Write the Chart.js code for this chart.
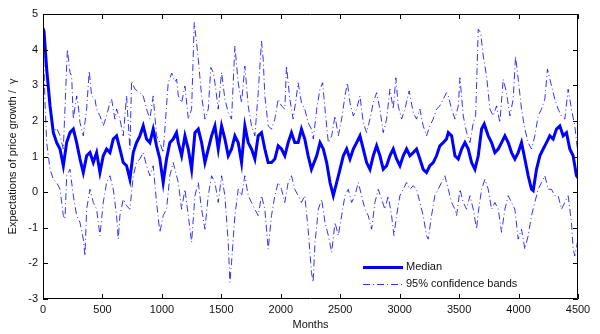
<!DOCTYPE html>
<html>
<head>
<meta charset="utf-8">
<script src="https://cdn.jsdelivr.net/npm/chart.js@4"></script>
<style>
  html, body { margin: 0; padding: 0; background: #fff; }
  #wrap { width: 600px; height: 334px; }
</style>
</head>
<body>
<div id="wrap"><canvas id="c" width="600" height="334"></canvas></div>
<script>
// Simulated expectations of price growth over 4500 months: median path and 95% bands.
const medianMonths = [0,9,31,59,87,115,143,171,199,227,255,283,311,339,367,395,423,451,479,507,535,563,591,619,647,675,703,731,759,787,815,843,871,899,927,955,983,1011,1039,1067,1095,1123,1138,1166,1194,1222,1250,1278,1306,1334,1362,1390,1418,1446,1474,1502,1530,1558,1586,1614,1642,1670,1698,1726,1754,1782,1810,1838,1866,1894,1922,1950,1978,2006,2034,2062,2090,2118,2146,2174,2202,2230,2258,2302,2330,2358,2386,2414,2442,2470,2498,2526,2554,2582,2610,2638,2666,2694,2722,2750,2778,2806,2834,2862,2890,2918,2946,2974,3002,3030,3058,3086,3114,3142,3170,3198,3226,3254,3282,3310,3338,3366,3394,3409,3437,3465,3493,3521,3549,3577,3605,3633,3661,3689,3711,3745,3773,3801,3829,3857,3885,3913,3941,3969,3997,4025,4053,4081,4109,4123,4151,4179,4207,4235,4263,4291,4319,4347,4375,4403,4431,4459,4487,4500];
const median = [4.6,4.5,3.45,2.42,1.67,1.39,1.21,0.74,1.39,1.67,1.77,1.39,0.93,0.55,1.02,1.11,0.83,1.11,0.55,1.02,1.21,1.11,1.49,1.58,1.21,0.83,0.74,0.36,1.11,1.39,1.58,1.86,1.49,1.39,1.77,1.30,0.93,0.27,0.93,1.39,1.49,1.67,1.39,1.02,1.58,1.21,0.64,1.67,1.77,1.39,0.83,1.21,1.58,1.86,1.21,1.86,1.49,1.02,1.21,1.58,1.39,0.83,1.86,1.39,1.21,0.93,1.58,1.67,1.21,0.83,0.83,0.93,1.30,1.21,1.02,1.39,1.67,1.39,1.39,1.77,1.49,1.02,0.64,1.02,1.39,1.21,0.83,0.27,-0.10,0.27,0.64,1.02,1.21,0.93,1.21,1.39,1.58,1.21,0.83,0.64,1.02,1.30,1.02,0.64,0.74,1.02,1.21,0.93,0.74,1.02,1.21,1.02,1.11,1.21,0.93,0.64,0.55,0.74,0.83,1.02,1.30,1.39,1.49,1.67,1.58,1.02,0.93,1.21,1.39,1.21,0.83,0.64,1.02,1.77,1.91,1.58,1.39,1.11,1.21,1.39,1.58,1.39,1.11,0.93,1.11,1.39,0.93,0.46,0.08,0.04,0.64,1.02,1.21,1.39,1.58,1.49,1.77,1.86,1.58,1.67,1.21,1.02,0.46,0.40];

const upperMonths = [0,17,31,59,87,115,143,171,205,227,241,255,283,297,311,339,367,389,409,437,451,479,507,535,563,577,605,619,647,675,703,731,745,773,815,843,871,899,927,955,983,1011,1053,1083,1110,1124,1138,1166,1194,1222,1250,1272,1292,1306,1334,1362,1390,1412,1432,1446,1474,1502,1530,1558,1586,1614,1642,1670,1698,1726,1754,1782,1810,1838,1852,1866,1894,1922,1950,1978,2006,2034,2048,2076,2104,2132,2146,2174,2202,2230,2258,2274,2302,2330,2352,2372,2400,2428,2456,2484,2512,2540,2560,2582,2610,2638,2666,2694,2722,2750,2778,2806,2834,2862,2890,2918,2946,2968,2988,3016,3044,3080,3114,3142,3170,3198,3226,3254,3282,3310,3338,3366,3394,3409,3437,3465,3493,3507,3535,3563,3591,3619,3639,3661,3681,3703,3731,3759,3787,3815,3843,3871,3899,3927,3955,3975,3997,4025,4053,4081,4109,4137,4165,4193,4221,4243,4271,4305,4333,4361,4389,4417,4445,4473,4495];
const upper = [4.6,3.8,3.26,2.51,1.67,1.8,1.58,1.21,4.01,3.36,3.26,2.05,2.70,2.42,1.95,1.58,2.33,3.40,2.70,2.61,2.33,2.14,1.86,2.14,2.51,2.61,2.05,2.33,2.05,1.58,2.70,1.21,3.12,2.89,2.79,2.70,2.33,2.05,2.70,1.58,1.39,1.11,3.07,3.34,3.1,3.17,2.70,2.51,2.98,2.05,2.33,4.76,4.20,3.73,2.70,2.05,2.33,3.50,3.36,3.07,2.33,3.36,2.61,2.23,2.05,4.10,3.07,2.51,3.54,2.42,1.86,1.58,2.79,4.24,3.73,2.70,1.86,1.77,2.05,2.61,2.42,2.33,3.54,2.61,2.05,2.70,3.07,2.51,2.33,1.95,1.77,1.49,2.33,2.89,3.07,2.33,1.39,1.58,2.14,1.58,2.05,2.70,3.07,2.51,2.14,2.33,2.70,1.95,1.67,2.05,2.51,2.79,2.33,1.67,2.05,2.89,2.33,3.21,2.42,2.05,2.33,2.84,2.23,2.05,2.33,1.86,1.58,1.86,2.05,2.33,2.42,2.61,2.79,2.70,2.33,2.05,2.42,3.21,2.14,1.67,1.39,1.95,2.14,4.57,4.48,3.82,3.26,2.33,2.14,2.42,1.95,3.17,2.79,2.14,2.61,3.82,3.17,2.33,1.77,1.39,1.21,1.58,2.14,2.33,2.61,3.45,3.07,2.61,2.33,2.14,2.05,2.89,2.33,1.86,1.21];

const lowerMonths = [0,17,31,59,87,115,143,171,185,199,227,255,283,311,339,353,367,395,423,451,479,507,535,563,591,619,633,647,675,703,731,759,787,815,843,871,899,927,955,983,1011,1039,1067,1095,1110,1138,1166,1194,1222,1250,1278,1306,1334,1362,1390,1418,1446,1474,1502,1530,1558,1572,1586,1614,1642,1670,1698,1726,1754,1782,1810,1838,1866,1894,1922,1950,1978,2006,2034,2062,2090,2118,2146,2174,2202,2230,2258,2272,2288,2316,2344,2372,2400,2428,2456,2484,2512,2540,2568,2596,2624,2652,2680,2708,2736,2764,2792,2820,2848,2876,2904,2932,2952,2974,3002,3030,3058,3086,3114,3142,3170,3198,3226,3240,3268,3296,3324,3352,3380,3409,3437,3465,3479,3507,3535,3563,3591,3619,3647,3661,3689,3717,3745,3773,3801,3829,3857,3885,3913,3941,3969,3997,4025,4053,4081,4109,4137,4165,4193,4221,4249,4277,4305,4333,4361,4389,4417,4445,4459,4473,4495];
const lower = [4.5,2.5,1.39,0.64,0.36,0.27,0.08,-0.66,-0.76,0.46,0.64,-0.10,-0.66,-0.85,-1.32,-1.79,-0.48,0.08,-0.29,-0.48,-1.22,-0.29,0.27,0.46,0.08,-0.66,-1.32,-0.66,-0.20,-0.38,-0.48,0.46,0.83,0.93,1.11,0.74,0.46,0.74,-0.29,-1.13,-0.66,-0.48,0.46,0.83,0.64,0.27,-0.48,0.08,-0.66,-1.41,-0.10,0.27,-0.48,-1.04,-0.10,0.46,0.27,-0.29,0.46,-0.10,-1.41,-2.53,-1.97,-0.66,0.08,-0.10,0.46,-0.10,-0.29,-0.48,-0.66,-0.10,-0.48,-1.60,-0.66,-0.10,0.27,0.08,-0.29,0.27,0.46,0.08,-0.10,-0.29,-0.10,-1.04,-2.25,-2.53,-1.41,-0.48,-0.20,-0.85,-1.22,-1.69,-0.85,-1.22,-0.66,-0.10,0.08,-0.29,-0.10,0.27,-0.10,-0.48,-0.66,-1.04,-0.29,0.08,-0.20,-0.48,-0.10,-0.66,-1.22,-0.66,-0.10,0.08,0.27,0.08,0.18,0.08,-0.29,-0.66,-1.22,-1.32,-0.66,-0.10,0.08,0.27,0.46,0.08,-0.29,-0.48,-0.66,0.08,-0.29,-0.48,-0.10,-0.48,-1.04,-0.57,0.08,0.36,0.08,-0.48,-0.29,-0.48,-1.13,-0.48,-0.10,-0.29,-0.48,-1.32,-1.04,-1.60,-1.22,-0.66,-0.29,0.08,0.27,0.46,0.08,0.08,-0.10,-0.10,-0.48,-0.29,-0.10,-0.85,-1.60,-1.79,-1.41];

const xTicks = [0,500,1000,1500,2000,2500,3000,3500,4000,4500];
const yTicks = [-3,-2,-1,0,1,2,3,4,5];

const pts = (xs, ys) => xs.map((m, i) => ({ x: m, y: ys[i] }));

const FONT = "'Liberation Sans', Arial, sans-serif";
const BLUE = '#0000ff';
const BAND = 'rgba(0,0,255,0.8)';
const DASHDOT = [7, 3, 1, 3];

// Boxed axes with inward ticks on all four sides, plus an unboxed legend inside the plot.
const boxAxes = {
  id: 'boxAxes',
  afterDatasetsDraw(chart) {
    const { ctx, chartArea: a, scales: { x, y } } = chart;
    const L = 5;
    ctx.save();
    ctx.strokeStyle = '#000';
    ctx.lineWidth = 1;
    ctx.beginPath();
    ctx.rect(a.left + 0.5, a.top + 0.5, a.right - a.left - 1, a.bottom - a.top - 1);
    for (const v of xTicks) {
      const px = Math.round(x.getPixelForValue(v)) + 0.5;
      ctx.moveTo(px, a.bottom); ctx.lineTo(px, a.bottom - L);
      ctx.moveTo(px, a.top); ctx.lineTo(px, a.top + L);
    }
    for (const v of yTicks) {
      const py = Math.round(y.getPixelForValue(v)) + 0.5;
      ctx.moveTo(a.left, py); ctx.lineTo(a.left + L, py);
      ctx.moveTo(a.right, py); ctx.lineTo(a.right - L, py);
    }
    ctx.stroke();

    // legend
    const ds = chart.data.datasets;
    const entries = [
      { d: ds[0], yy: 267 },
      { d: ds[1], yy: 284 }
    ];
    ctx.font = '11px ' + FONT;
    ctx.textBaseline = 'middle';
    ctx.textAlign = 'left';
    for (const e of entries) {
      ctx.beginPath();
      ctx.strokeStyle = e.d.borderColor;
      ctx.lineWidth = e.d.borderWidth;
      ctx.setLineDash(e.d.borderDash || []);
      ctx.moveTo(363, e.yy + 0.5);
      ctx.lineTo(403, e.yy + 0.5);
      ctx.stroke();
      ctx.setLineDash([]);
      ctx.fillStyle = '#111';
      ctx.fillText(e.d.label, 406, e.yy);
    }
    ctx.restore();
  }
};

new Chart(document.getElementById('c'), {
  type: 'line',
  data: {
    datasets: [
      { label: 'Median', data: pts(medianMonths, median), borderColor: BLUE, borderWidth: 3,
        pointRadius: 0, tension: 0 },
      { label: '95% confidence bands', data: pts(upperMonths, upper), borderColor: BAND, borderWidth: 1,
        borderDash: DASHDOT, pointRadius: 0, tension: 0 },
      { label: '95% confidence bands (lower)', data: pts(lowerMonths, lower), borderColor: BAND, borderWidth: 1,
        borderDash: DASHDOT, pointRadius: 0, tension: 0 }
    ]
  },
  options: {
    responsive: false,
    animation: false,
    events: [],
    layout: { padding: { top: 14, right: 22, left: 0, bottom: 0 } },
    plugins: { legend: { display: false }, tooltip: { enabled: false } },
    scales: {
      x: {
        type: 'linear', min: 0, max: 4500,
        afterBuildTicks: s => { s.ticks = xTicks.map(v => ({ value: v })); },
        afterFit: s => { s.height = 35; s.paddingLeft = 0; s.paddingRight = 0; },
        grid: { display: false, drawTicks: false },
        border: { display: false },
        ticks: { padding: 4, color: '#111', font: { family: FONT, size: 11 }, maxRotation: 0, autoSkip: false,
                 callback: v => String(v) },
        title: { display: true, text: 'Months', color: '#111', font: { family: FONT, size: 11 },
                 padding: { top: 0, bottom: 2 } }
      },
      y: {
        min: -3, max: 5,
        afterBuildTicks: s => { s.ticks = yTicks.map(v => ({ value: v })); },
        afterFit: s => { s.width = 43; s.paddingTop = 0; s.paddingBottom = 0; },
        grid: { display: false, drawTicks: false },
        border: { display: false },
        ticks: { padding: 5, color: '#111', font: { family: FONT, size: 11 }, autoSkip: false,
                 callback: v => String(v) },
        title: { display: true, text: 'Expectations of price growth /  γ', color: '#111',
                 font: { family: FONT, size: 11 }, padding: { top: 6, bottom: 0 } }
      }
    }
  },
  plugins: [boxAxes]
});
</script>
</body>
</html>
